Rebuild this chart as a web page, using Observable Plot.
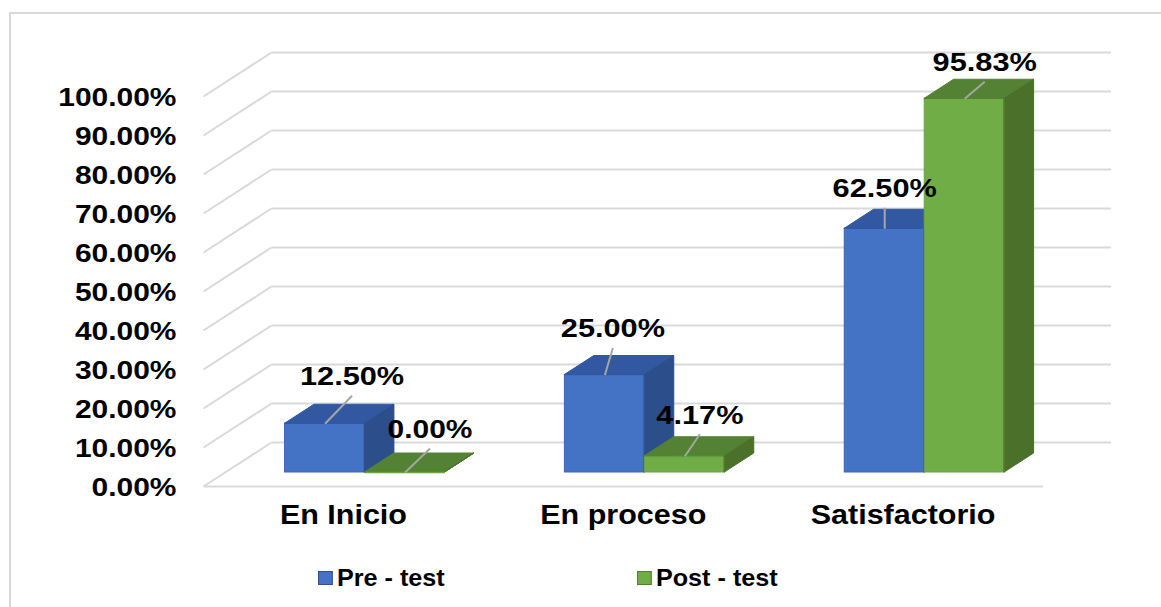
<!DOCTYPE html>
<html>
<head>
<meta charset="utf-8">
<script src="https://cdn.jsdelivr.net/npm/d3@7"></script>
<script src="https://cdn.jsdelivr.net/npm/@observablehq/plot@0.6"></script>
<style>
  html, body { margin: 0; padding: 0; background: #fff; }
  #wrap { position: relative; width: 1161px; height: 607px; overflow: hidden; font-family: "Liberation Sans", Arial, sans-serif; }
  #frame { position: absolute; left: 9px; top: 12px; width: 1160px; height: 620px; border-left: 2px solid #d9d9d9; border-top: 2px solid #d9d9d9; pointer-events: none; }
  #chart { position: absolute; left: 0; top: 0; }
  .leg { position: absolute; top: 564px; display: flex; align-items: center; font-weight: bold; font-size: 24px; color: #000; transform-origin: left center; transform: scaleX(1.05); }
  .sw { width: 12px; height: 12px; margin-right: 4px; border: 1px solid; }
</style>
</head>
<body>
<div id="wrap">
  <div id="chart"></div>
  <div id="frame"></div>
  <div id="legend"></div>
</div>
<script>
// ---- data ----
const categories = ["En Inicio", "En proceso", "Satisfactorio"];
const seriesNames = ["Pre - test", "Post - test"];
const preTest = [12.50, 25.00, 62.50];
const postTest = [0.00, 4.17, 95.83];
const yTicks = [0, 10, 20, 30, 40, 50, 60, 70, 80, 90, 100];

// ---- layout / style ----
const W = 1161, H = 545;
const X0 = 203, X1 = 1042.5, Y0 = 486, Y100 = 96;
const pxX = 3 / (X1 - X0), pxY = 100 / (Y0 - Y100);
const DX = 68 * pxX, DY = 44 * pxY;      // full depth of the 3D box
const zF = 14 / 44, zB = 33 / 44;        // bar front / back depth
const BW = 80 * pxX;                     // bar width
const colors = [
  {front: "#4472C4", top: "#3158A0", right: "#2C4E8A", edge: "#3A66B5", leg: "#2F528F"},
  {front: "#70AD47", top: "#538234", right: "#4A7029", edge: "#68A53F", leg: "#507E32"}
];
// leader-line offsets (pixels, right / up) from bar front-top midpoint
const leaderPx = [
  [[27, 28], [8, 27], [0, 21]],
  [[25, 24], [15, 22], [20, 17]]
];

const series = [preTest, postTest];
const fronts = [], tops = [], rights = [], leaders = [], labels = [];
series.forEach((vals, s) => {
  vals.forEach((v, i) => {
    const id = s + "-" + i;
    const xa = i + 0.5 - BW + s * BW, xb = xa + BW;
    fronts.push({s, x1: xa + zF * DX, x2: xb + zF * DX, y1: zF * DY, y2: v + zF * DY});
    tops.push({s, id, y: v + zF * DY, x1: xa + zF * DX, x2: xb + zF * DX});
    tops.push({s, id, y: v + zB * DY, x1: xa + zB * DX, x2: xb + zB * DX});
    rights.push({s, id, x: xb + zF * DX, y1: zF * DY, y2: v + zF * DY});
    rights.push({s, id, x: xb + zB * DX, y1: zB * DY, y2: v + zB * DY});
    const mx = (xa + xb) / 2 + zF * DX, my = v + zF * DY;
    const [ox, oy] = leaderPx[s][i];
    const ex = mx + ox * pxX, ey = my + oy * pxY;
    leaders.push({x1: mx, y1: my, x2: ex, y2: ey});
    labels.push({x: ex, y: ey + 19 * pxY, text: d3.format(".2f")(v) + "%"});
  });
});

const font = "Liberation Sans, Arial, sans-serif";
const barMarks = [];
[0, 1].forEach(s => {
  const c = colors[s];
  barMarks.push(
    Plot.rect(fronts.filter(d => d.s === s), {x1: "x1", x2: "x2", y1: "y1", y2: "y2", fill: c.front, stroke: c.edge, strokeWidth: 1}),
    Plot.areaX(tops.filter(d => d.s === s), {y: "y", x1: "x1", x2: "x2", z: "id", fill: c.top, stroke: c.top, strokeWidth: 1}),
    Plot.areaY(rights.filter(d => d.s === s), {x: "x", y1: "y1", y2: "y2", z: "id", fill: c.right, stroke: c.right, strokeWidth: 1})
  );
  barMarks.push(Plot.link(fronts.filter(d => d.s === s && d.y1 === d.y2), {x1: "x1", x2: "x2", y1: "y1", y2: "y2", stroke: c.edge, strokeWidth: 1.5}));
});

const grid = "#d9d9d9";
const plot = Plot.plot({
  width: W, height: H,
  marginLeft: X0, marginRight: W - X1, marginTop: Y100, marginBottom: H - Y0,
  x: {domain: [0, 3], axis: null},
  y: {domain: [0, 100], axis: null},
  style: {background: "transparent", overflow: "visible", fontFamily: font},
  marks: [
    Plot.link(yTicks, {x1: DX, x2: 3 + DX, y1: d => d + DY, y2: d => d + DY, stroke: grid, strokeWidth: 2}),
    Plot.link(yTicks, {x1: 0, x2: DX, y1: d => d, y2: d => d + DY, stroke: grid, strokeWidth: 2}),
    Plot.link([0], {x1: 0, x2: 3, y1: 0, y2: 0, stroke: grid, strokeWidth: 2}),
    ...barMarks,
    Plot.link(leaders, {x1: "x1", y1: "y1", x2: "x2", y2: "y2", stroke: "#a6a6a6", strokeWidth: 2}),
    Plot.text(labels, {x: "x", y: "y", text: "text", fontSize: 26.5, fontWeight: "bold", fill: "#000", lineAnchor: "middle", textAnchor: "middle"}),
    Plot.text(yTicks, {x: 0, y: d => d, text: d => d3.format(".2%")(d / 100), textAnchor: "end", lineAnchor: "middle", dx: -27, dy: 1, fontSize: 26.5, fontWeight: "bold", fill: "#000"}),
    Plot.text(categories, {x: (d, i) => i + 0.5, y: 0, text: d => d, textAnchor: "middle", lineAnchor: "middle", dy: 29, fontSize: 28, fontWeight: "bold", fill: "#000"})
  ]
});
document.getElementById("chart").appendChild(plot);

// horizontal stretch of text to match the reference's wide rendering
const dataTexts = new Set(labels.map(d => d.text));
const tickTexts = new Set(yTicks.map(d => d3.format(".2%")(d / 100)));
const catTexts = new Set(categories);
plot.querySelectorAll("text").forEach(t => {
  const c = t.textContent;
  let s = null;
  if (catTexts.has(c)) s = 1.09;
  else if (tickTexts.has(c)) s = 1.13;
  else if (dataTexts.has(c)) s = 1.16;
  if (s == null) return;
  const tr = t.getAttribute("transform");
  if (tr) t.setAttribute("transform", tr + ` scale(${s},1)`);
  else {
    const x = +t.getAttribute("x") || 0, y = +t.getAttribute("y") || 0;
    t.removeAttribute("x"); t.removeAttribute("y");
    t.setAttribute("transform", `translate(${x},${y}) scale(${s},1)`);
  }
});

// legend
const legX = [318, 637];
const legend = document.getElementById("legend");
seriesNames.forEach((name, s) => {
  const item = document.createElement("div");
  item.className = "leg";
  item.style.left = legX[s] + "px";
  const sw = document.createElement("span");
  sw.className = "sw";
  sw.style.background = colors[s].front;
  sw.style.borderColor = colors[s].leg;
  const tx = document.createElement("span");
  tx.textContent = name;
  item.appendChild(sw); item.appendChild(tx);
  legend.appendChild(item);
});
</script>
</body>
</html>
